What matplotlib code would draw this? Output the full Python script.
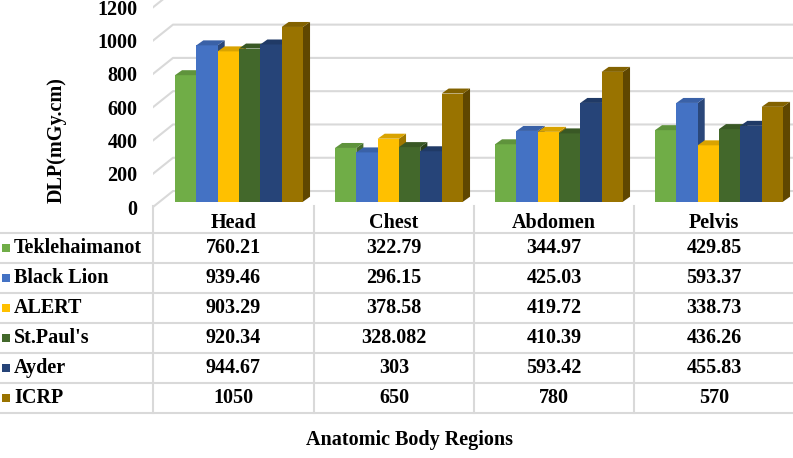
import matplotlib.pyplot as plt
import numpy as np
from matplotlib.patches import Polygon, Rectangle
import matplotlib.colors as mcolors

regions = ['Head', 'Chest', 'Abdomen', 'Pelvis']
hospitals = ['Teklehaimanot', 'Black Lion', 'ALERT', "St.Paul's", 'Ayder', 'ICRP']
dlp = [
    [760.21, 322.79, 344.97, 429.85],
    [939.46, 296.15, 425.03, 593.37],
    [903.29, 378.58, 419.72, 338.73],
    [920.34, 328.082, 410.39, 436.26],
    [944.67, 303, 593.42, 455.83],
    [1050, 650, 780, 570],
]
colors = ['#70AD47', '#4472C4', '#FFC000', '#43682B', '#264478', '#997300']
yticks = [0, 200, 400, 600, 800, 1000, 1200]

W, H = 793, 458
FS = 14.5
plt.rcParams['font.family'] = ['Liberation Serif', 'DejaVu Serif']
plt.rcParams['font.weight'] = 'bold'

fig = plt.figure(figsize=(W / 100, H / 100), dpi=100)

# bar area (3D look faked with parallelograms)
ax = fig.add_axes([153 / W, (H - 215) / H, 640 / W, 215 / H], zorder=2)
ax.patch.set_visible(False)
ax.set_xlim(-0.5, 3.5)
ax.set_ylim(-80, 1212)
for s in ax.spines.values():
    s.set_visible(False)
ax.set_xticks([])
ax.set_yticks([v - 32 for v in yticks])
ax.set_yticklabels([str(v) for v in yticks], fontsize=FS, fontweight='bold')
ax.tick_params(axis='y', length=0, pad=11)

grid_c = '#D9D9D9'
for v in yticks:
    ax.plot([-0.5, -0.375, 3.5], [v - 32, v + 64, v + 64], color=grid_c, lw=1.5,
            zorder=1, clip_on=True)

def shade(c, f):
    r, g, b = mcolors.to_rgb(c)
    return (r * f, g * f, b * f)

bw = 0.8 / 6
ddx, ddy = 0.044, 30
xs = np.arange(len(regions))
for j, (name, vals) in enumerate(zip(hospitals, dlp)):
    lefts = xs + 0.0375 - 0.4 + j * bw
    ax.bar(lefts, vals, width=bw, align='edge', color=colors[j], zorder=2 + j * 0.01)
    for x0, v in zip(lefts, vals):
        top = [(x0, v), (x0 + ddx, v + ddy), (x0 + bw + ddx, v + ddy), (x0 + bw, v)]
        side = [(x0 + bw, 0), (x0 + bw + ddx, ddy), (x0 + bw + ddx, v + ddy), (x0 + bw, v)]
        ax.add_patch(Polygon(top, closed=True, color=shade(colors[j], 0.85), zorder=2 + j * 0.01, lw=0))
        ax.add_patch(Polygon(side, closed=True, color=shade(colors[j], 0.62), zorder=2 + j * 0.01 - 0.005, lw=0))

# data table below
tb = fig.add_axes([0, 0, 1, 1], zorder=1)
tb.set_xlim(0, W)
tb.set_ylim(H, 0)
tb.axis('off')

col_edges = [153, 314, 474, 634]
col_centers = [233.5, 394, 554, 714]
row_top = 233
row_h = 30
for k in range(len(hospitals) + 1):
    y = row_top + k * row_h
    tb.plot([0, W], [y, y], color=grid_c, lw=1.5)
for x in col_edges:
    tb.plot([x, x], [206, row_top + len(hospitals) * row_h], color=grid_c, lw=1.5)

for c, r in zip(col_centers, regions):
    tb.text(c, 223, r, ha='center', va='center', fontsize=FS, fontweight='bold')

for j, (name, vals) in enumerate(zip(hospitals, dlp)):
    yc = row_top + row_h * (j + 0.5)
    tb.add_patch(Rectangle((2, yc - 4), 8, 8, color=colors[j], lw=0))
    tb.text(14, yc, name, ha='left', va='center', fontsize=FS, fontweight='bold')
    for c, v in zip(col_centers, vals):
        tb.text(c, yc, '{:g}'.format(v), ha='center', va='center', fontsize=FS, fontweight='bold')

fig.text(57 / W, 1 - 140 / H, 'DLP(mGy.cm)', rotation=90, ha='center', va='center',
         fontsize=FS, fontweight='bold')
fig.text(409 / W, 1 - 440 / H, 'Anatomic Body Regions', ha='center', va='center',
         fontsize=FS, fontweight='bold')

fig.savefig('out.png', dpi=100)
